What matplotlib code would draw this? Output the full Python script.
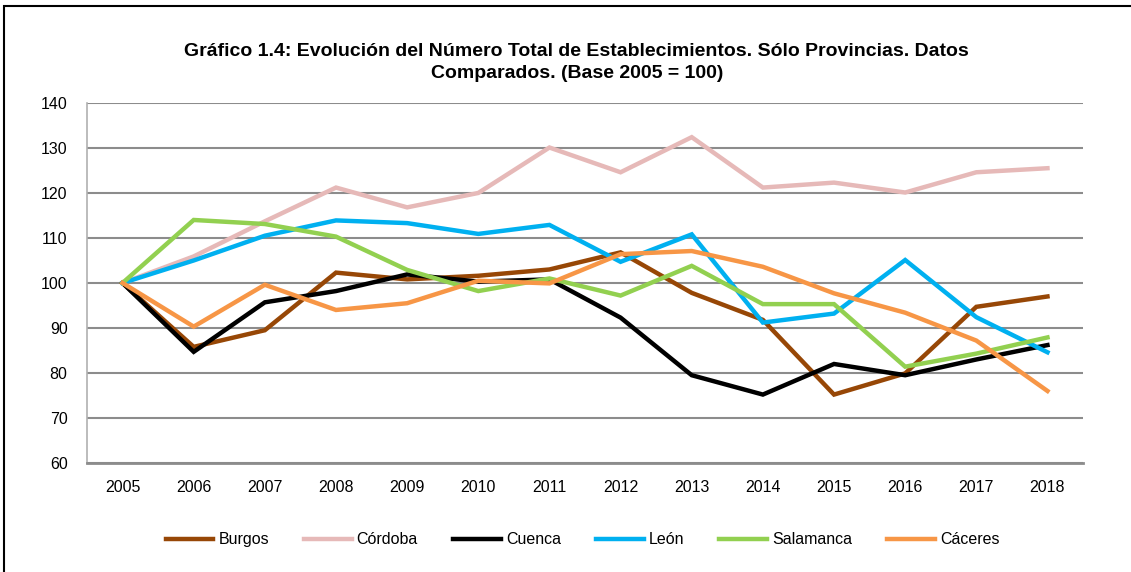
import matplotlib.pyplot as plt
from matplotlib.patches import Rectangle

years = [str(y) for y in range(2005, 2019)]

burgos = [100, 85.8, 89.5, 102.3, 100.8, 101.6, 103.0, 106.8, 97.8, 91.8, 75.2, 79.9, 94.7, 97.0]
cordoba = [100, 105.9, 113.7, 121.2, 116.8, 120.0, 130.1, 124.6, 132.4, 121.2, 122.3, 120.1, 124.6, 125.5]
cuenca = [100, 84.7, 95.7, 98.2, 101.9, 100.3, 100.8, 92.3, 79.5, 75.2, 82.0, 79.5, 83.0, 86.2]
leon = [100, 105.0, 110.5, 113.9, 113.3, 110.9, 112.9, 104.7, 110.8, 91.2, 93.2, 105.1, 92.4, 84.6]
salamanca = [100, 114.0, 113.1, 110.3, 102.9, 98.2, 101.0, 97.2, 103.8, 95.3, 95.3, 81.4, 84.3, 87.9]
caceres = [100, 90.3, 99.6, 94.0, 95.5, 100.5, 99.9, 106.4, 107.1, 103.6, 97.7, 93.4, 87.2, 76.0]

series = [
    ("Burgos", burgos, "#974706"),
    ("Córdoba", cordoba, "#E6B9B8"),
    ("Cuenca", cuenca, "#000000"),
    ("León", leon, "#00B0F0"),
    ("Salamanca", salamanca, "#92D050"),
    ("Cáceres", caceres, "#F79646"),
]

narrow = ["Liberation Sans Narrow", "Liberation Sans", "DejaVu Sans"]

fig = plt.figure(figsize=(11.31, 5.72), dpi=100)
ax = fig.add_axes([0.0769, 0.1906, 0.8807, 0.6294])

x = list(range(len(years)))
for name, vals, color in series:
    ax.plot(x, vals, color=color, lw=3.2, label=name, solid_joinstyle="miter")

ax.set_xlim(-0.5, len(years) - 0.5)
ax.set_ylim(60, 140)
ax.set_yticks(range(60, 141, 10))
ax.set_xticks(x)
ax.set_xticklabels(years, family=narrow, fontsize=11.5)
for lab in ax.get_yticklabels():
    lab.set_family(narrow)
    lab.set_fontsize(11.5)
ax.tick_params(length=0, pad=12)
ax.tick_params(axis="y", pad=14)
ax.yaxis.grid(True, color="#8c8c8c", lw=1.5)
ax.set_axisbelow(True)
for s in ["top", "right"]:
    ax.spines[s].set_visible(False)
ax.spines["left"].set_color("#b0b0b0")
ax.spines["left"].set_linewidth(1.2)
ax.spines["bottom"].set_color("#8c8c8c")
ax.spines["bottom"].set_linewidth(2)

fig.text(0.51, 0.891, "Gráfico 1.4: Evolución del Número Total de Establecimientos. Sólo Provincias. Datos\nComparados. (Base 2005 = 100)",
         ha="center", va="center", fontsize=14, fontweight="bold",
         family=["Liberation Sans", "DejaVu Sans"], linespacing=1.38)

fig.legend(loc="center", bbox_to_anchor=(0.515, 0.056), ncol=6, frameon=False,
           prop={"family": narrow, "size": 11.5}, handlelength=3.0,
           columnspacing=2.2, handletextpad=0.3)

fig.patches.append(Rectangle((4 / 1131, -0.1), 1.2, 1.1 - 6 / 572, transform=fig.transFigure,
                             fill=False, edgecolor="black", lw=1.5))

fig.savefig("out.png", dpi=100)
